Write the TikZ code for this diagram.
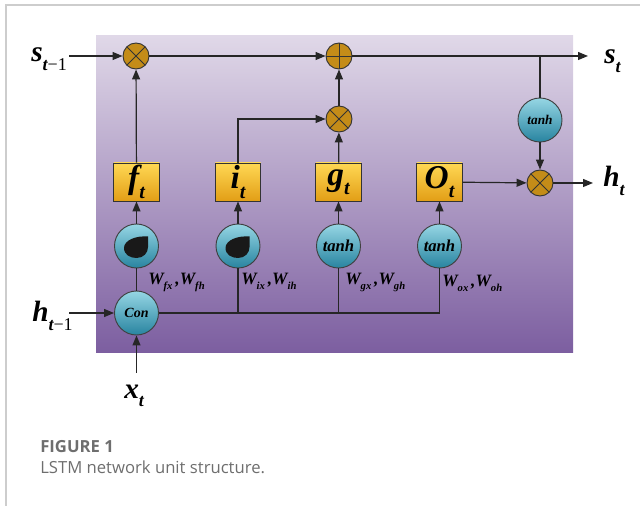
\documentclass[tikz,border=0pt]{standalone}
\usepackage{fontspec}
\setmainfont{Liberation Serif}
\newfontfamily\capfont{Open Sans}
\usetikzlibrary{arrows.meta}

\definecolor{bgtop}{RGB}{224,216,232}
\definecolor{bgmid}{RGB}{192,174,210}
\definecolor{bgbot}{RGB}{124,94,160}
\definecolor{tealL}{RGB}{150,214,228}
\definecolor{tealD}{RGB}{40,132,160}
\definecolor{opgold}{RGB}{196,140,24}
\definecolor{boxL}{RGB}{255,216,84}
\definecolor{boxD}{RGB}{226,158,22}
\definecolor{capgray}{RGB}{110,110,110}
\definecolor{framegray}{RGB}{205,205,205}

\newcommand\bigsub[2]{{\fontsize{22}{22}\selectfont\bfseries\itshape #1\raisebox{-0.3em}{\fontsize{13.5}{13.5}\selectfont #2}}}
\newcommand\gatesub[2]{{\fontsize{25}{25}\selectfont\bfseries\itshape #1\raisebox{-0.28em}{\fontsize{15}{15}\selectfont #2}}}
\newcommand\wlab[2]{{\fontsize{13}{13}\selectfont\bfseries\itshape W\raisebox{-3.5pt}{\fontsize{8}{8}\selectfont #1}\,,W\raisebox{-3.5pt}{\fontsize{8}{8}\selectfont #2}}}

\tikzset{
  conn/.style={line width=0.9pt, draw=black!85},
  arr/.style={conn, -{Triangle[length=7.5pt,width=6pt]}},
  opnode/.style={circle, draw=black!80, line width=0.7pt, fill=opgold, minimum size=19.5pt, inner sep=0pt},
  timesop/.style={opnode, path picture={\draw[line width=0.7pt, black!80]
      (path picture bounding box.north west) -- (path picture bounding box.south east)
      (path picture bounding box.north east) -- (path picture bounding box.south west);}},
  plusop/.style={opnode, path picture={\draw[line width=0.7pt, black!80]
      (path picture bounding box.north) -- (path picture bounding box.south)
      (path picture bounding box.west) -- (path picture bounding box.east);}},
  act/.style={circle, draw=black!75, line width=0.7pt, top color=tealL, bottom color=tealD,
      minimum size=33pt, inner sep=0pt, font=\fontsize{12.5}{12.5}\selectfont\bfseries\itshape},
  gatebox/.style={rectangle, draw=black!80, line width=0.7pt, top color=boxL, bottom color=boxD,
      minimum width=34pt, minimum height=28.5pt, inner sep=0pt},
  lab/.style={inner sep=0pt, anchor=base west},
  blob/.style={fill=black!90}
}

\newcommand\sigblob[1]{%
  \begin{scope}[shift={(#1.center)}]
    \fill[blob] (11.5,-9.5) .. controls (0,-10.5) and (-12.5,-6) .. (-12.5,2)
      .. controls (-12.5,9) and (-6,12) .. (0,12)
      .. controls (7,12) and (11.5,7) .. (11.5,1) -- cycle;
  \end{scope}}

\begin{document}
\begin{tikzpicture}[x=0.75pt, y=-0.75pt]
\useasboundingbox (0,0) rectangle (640,506);
% card frame
\draw[framegray, line width=1.1pt] (6,506) -- (6,5) -- (640,5);
% background
\shade[top color=bgtop, middle color=bgmid, bottom color=bgbot] (96,36) rectangle (573,353);

% operators
\node[timesop] (m1) at (136,56) {};
\node[plusop] (p1) at (339,56) {};
\node[timesop] (m2) at (339,119) {};
\node[timesop] (m3) at (540,183) {};
\node[act, font=\fontsize{10}{10}\selectfont\bfseries\itshape] (tc) at (540,120) {tanh};

% gates
\node[gatebox] (fb) at (136.5,182) {\gatesub{f}{t}};
\node[gatebox] (ib) at (238,182) {\gatesub{i}{t}};
\node[gatebox] (gb) at (338.5,182) {\gatesub{g}{t}};
\node[gatebox] (ob) at (439.5,182) {\gatesub{O}{t}};

% activations
\node[act] (fs) at (136.5,246) {};
\node[act] (is) at (238,246) {};
\node[act] (gs) at (338.5,246) {tanh};
\node[act] (os) at (439.5,246) {tanh};
\sigblob{fs}
\sigblob{is}

% concatenation
\node[act, font=\fontsize{10.5}{10.5}\selectfont\bfseries\itshape] (con) at (136.5,313) {Con};

% outer labels
\node[lab] (st1) at (31,62) {\bigsub{s}{t{\upshape\mdseries −1}}};
\node[lab] (ht1) at (32,322) {\bigsub{h}{t{\upshape\mdseries −1}}};
\node[lab] (xt) at (124,398) {\bigsub{x}{t}};
\node[lab] (st) at (604,64) {\bigsub{s}{t}};
\node[lab] (ht) at (603,187) {\bigsub{h}{t}};

\coordinate (sin) at (69,56);
\coordinate (hin) at (69,313);
\coordinate (xin) at (136.5,373);
\coordinate (sout) at (588,56);
\coordinate (hout) at (593,183);
\coordinate (bus) at (439.5,313);

% weight labels
\node[lab] (wf) at (148,285) {\wlab{fx}{fh}};
\node[lab] (wi) at (241,285) {\wlab{ix}{ih}};
\node[lab] (wg) at (345,285) {\wlab{gx}{gh}};
\node[lab] (wo) at (442,287) {\wlab{ox}{oh}};

% connectors
\draw[arr] (sin) -- (m1);
\draw[arr] (m1) -- (p1);
\draw[arr] (p1) -- (sout);
\draw[conn] (tc.north) -- (tc |- p1);
\draw[arr] (tc) -- (m3);
\draw[arr] (ob) -- (m3);
\draw[arr] (m3) -- (hout);
\draw[arr] (fb) -- (m1);
\draw[arr] (m2) -- (p1);
\draw[arr] (gb) -- (m2);
\draw[arr] (ib.north) |- (m2.west);
\draw[arr] (fs) -- (fb);
\draw[arr] (is) -- (ib);
\draw[arr] (gs) -- (gb);
\draw[arr] (os) -- (ob);
\draw[conn] (con) -- (fs);
\draw[conn] (con.east) -- (bus) -- (os.south);
\draw[conn] (is.south) -- (is |- bus);
\draw[conn] (gs.south) -- (gs |- bus);
\draw[arr] (hin) -- (con);
\draw[arr] (xin) -- (con);

% caption
\node[lab, text=capgray, font=\capfont\bfseries\fontsize{12.5}{12.5}\selectfont] (fig) at (40,453) {FIGURE 1};
\node[lab, text=capgray, font=\capfont\fontsize{12.5}{12.5}\selectfont] (cap) at (40,474) {LSTM network unit structure.};
\end{tikzpicture}
\end{document}
